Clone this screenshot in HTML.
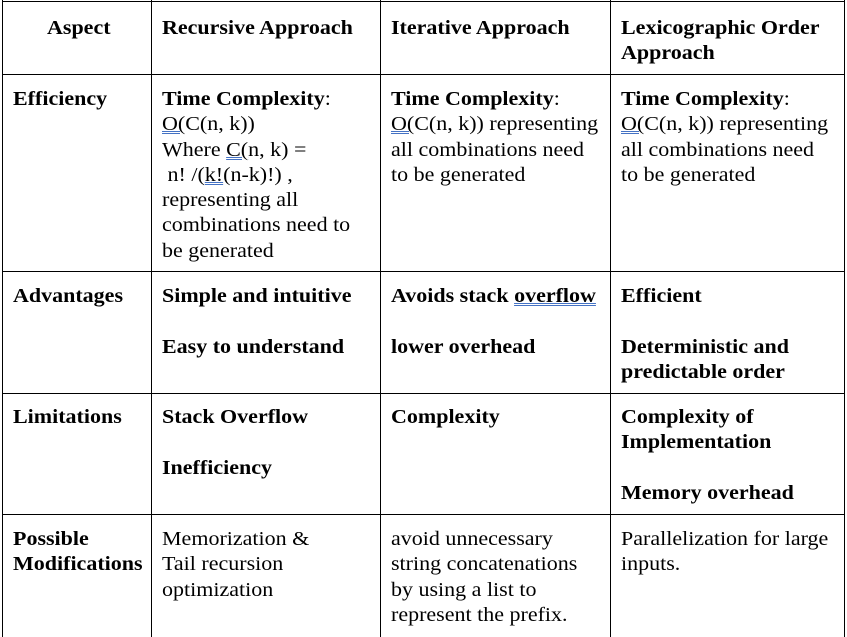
<!DOCTYPE html>
<html><head><style>
body{margin:0;width:847px;height:637px;background:#fff;position:relative;overflow:hidden;font-family:"Liberation Serif",serif;font-size:20px;color:#000}
.l{position:absolute;background:#000}
.c{position:absolute;line-height:25.3px;white-space:nowrap;transform:scaleX(1.1);transform-origin:0 0}
b{font-weight:bold}
u{text-decoration:underline double #4472c4;text-decoration-thickness:1px}
</style></head><body>
<div class="l" style="left:2px;top:0;width:1px;height:637px"></div>
<div class="l" style="left:151px;top:0;width:1px;height:637px"></div>
<div class="l" style="left:380px;top:0;width:1px;height:637px"></div>
<div class="l" style="left:610px;top:0;width:1px;height:637px"></div>
<div class="l" style="left:844px;top:0;width:1px;height:637px"></div>
<div class="l" style="left:2px;top:1px;width:843px;height:1px"></div>
<div class="l" style="left:2px;top:74px;width:843px;height:1px"></div>
<div class="l" style="left:2px;top:271px;width:843px;height:1px"></div>
<div class="l" style="left:2px;top:393px;width:843px;height:1px"></div>
<div class="l" style="left:2px;top:514px;width:843px;height:1px"></div>

<div class="c" style="left:47px;top:16px"><b>Aspect</b></div>
<div class="c" style="left:162px;top:16px"><b>Recursive Approach</b></div>
<div class="c" style="left:391px;top:16px"><b>Iterative Approach</b></div>
<div class="c" style="left:621px;top:16px"><b>Lexicographic Order<br>Approach</b></div>

<div class="c" style="left:13px;top:87px"><b>Efficiency</b></div>
<div class="c" style="left:162px;top:87px"><b>Time Complexity</b>:<br><u>O(</u>C(n, k))<br>Where <u>C(</u>n, k) =<br>&nbsp;n! /(<u>k!</u>(n-k)!) ,<br>representing all<br>combinations need to<br>be generated</div>
<div class="c" style="left:391px;top:87px"><b>Time Complexity</b>:<br><u>O(</u>C(n, k)) representing<br>all combinations need<br>to be generated</div>
<div class="c" style="left:621px;top:87px"><b>Time Complexity</b>:<br><u>O(</u>C(n, k)) representing<br>all combinations need<br>to be generated</div>

<div class="c" style="left:13px;top:284px"><b>Advantages</b></div>
<div class="c" style="left:162px;top:284px"><b>Simple and intuitive</b><br><br><b>Easy to understand</b></div>
<div class="c" style="left:391px;top:284px"><b>Avoids stack <u>overflow</u></b><br><br><b>lower overhead</b></div>
<div class="c" style="left:621px;top:284px"><b>Efficient</b><br><br><b>Deterministic and<br>predictable order</b></div>

<div class="c" style="left:13px;top:405px"><b>Limitations</b></div>
<div class="c" style="left:162px;top:405px"><b>Stack Overflow</b><br><br><b>Inefficiency</b></div>
<div class="c" style="left:391px;top:405px"><b>Complexity</b></div>
<div class="c" style="left:621px;top:405px"><b>Complexity of<br>Implementation</b><br><br><b>Memory overhead</b></div>

<div class="c" style="left:13px;top:527px"><b>Possible<br>Modifications</b></div>
<div class="c" style="left:162px;top:527px">Memorization &amp;<br>Tail recursion<br>optimization</div>
<div class="c" style="left:391px;top:527px">avoid unnecessary<br>string concatenations<br>by using a list to<br>represent the prefix.</div>
<div class="c" style="left:621px;top:527px">Parallelization for large<br>inputs.</div>
</body></html>
